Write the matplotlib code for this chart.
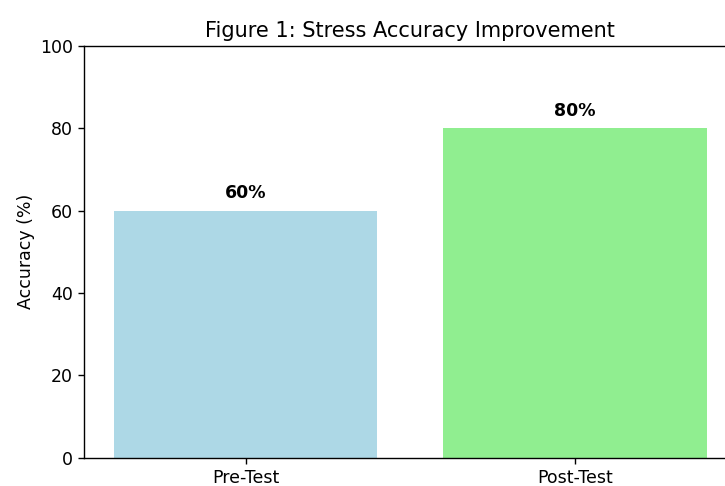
import matplotlib
matplotlib.use("Agg")
import matplotlib.pyplot as plt

stages = ["Pre-Test", "Post-Test"]
accuracy = [60, 80]
bar_colors = ["lightblue", "lightgreen"]

s = 1.25
plt.rcParams["font.size"] = 10 * s
plt.rcParams["xtick.major.size"] = 3.5 * s
plt.rcParams["ytick.major.size"] = 3.5 * s
plt.rcParams["axes.linewidth"] = 0.8 * s
plt.rcParams["xtick.major.width"] = 0.8 * s
plt.rcParams["ytick.major.width"] = 0.8 * s

fig = plt.figure(figsize=(7.25, 4.86), dpi=100)
ax = fig.add_axes([0.116, 0.058, 0.9, 0.848])

bars = ax.bar(stages, accuracy, color=bar_colors)
for b, v in zip(bars, accuracy):
    ax.text(b.get_x() + b.get_width() / 2, v + 2, f"{v}%",
            ha="center", va="bottom", fontweight="bold")

ax.set_ylim(0, 100)
ax.set_ylabel("Accuracy (%)")
ax.set_title("Figure 1: Stress Accuracy Improvement", fontsize=12 * s)

fig.savefig("out.png", dpi=100)
